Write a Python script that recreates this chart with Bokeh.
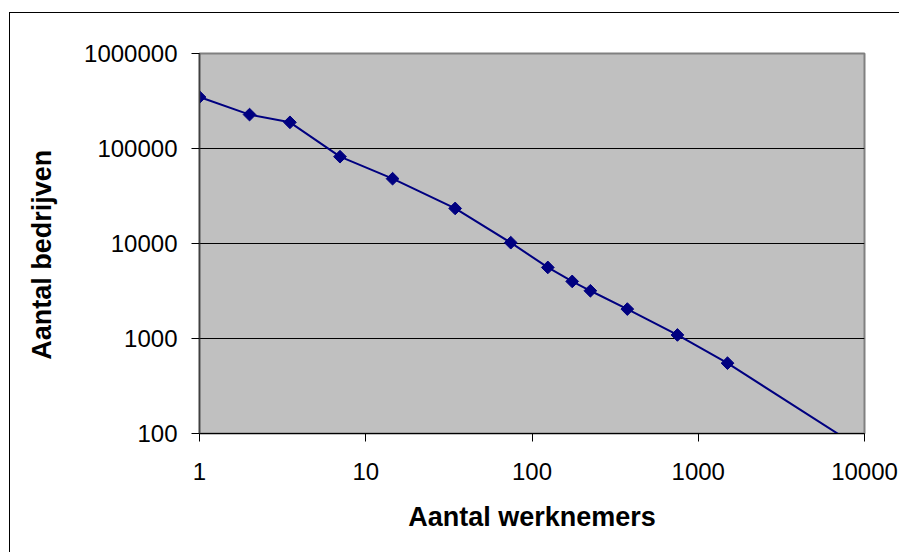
import math
from bokeh.plotting import figure
from bokeh.models import FixedTicker, NumeralTickFormatter, Range1d
from bokeh.embed import file_html
from bokeh.resources import INLINE

# Data
werknemers = [1, 2, 3.5, 7, 14.5, 34.5, 74.5, 124.5, 174.5, 224.5, 374.5, 749.5, 1499.5, 9000]
bedrijven = [348000, 227500, 188600, 82000, 48100, 23400, 10200, 5600, 3990, 3180, 2040, 1090, 550, 74]

x_ticks = [1, 10, 100, 1000, 10000]
y_ticks = [100, 1000, 10000, 100000, 1000000]

FONT = "Liberation Sans"

p = figure(width=890, height=540, x_axis_type="log", y_axis_type="log",
           x_range=Range1d(1, 10000), y_range=Range1d(100, 1000000),
           output_backend="svg", toolbar_location=None,
           min_border_left=189, min_border_right=36, min_border_top=40, min_border_bottom=120)

p.styles = {"margin-left": "9px", "margin-top": "12px",
            "border-left": "1px solid black", "border-top": "1px solid black"}

p.background_fill_color = "#C0C0C0"
p.border_fill_color = "white"
p.outline_line_color = "#808080"
p.outline_line_width = 2

p.xgrid.visible = False
p.ygrid.grid_line_color = "black"
p.ygrid.grid_line_width = 1

p.xaxis.ticker = FixedTicker(ticks=x_ticks, minor_ticks=[])
p.yaxis.ticker = FixedTicker(ticks=y_ticks, minor_ticks=[])
p.xaxis.formatter = NumeralTickFormatter(format="0")
p.yaxis.formatter = NumeralTickFormatter(format="0")

for ax in (p.xaxis, p.yaxis):
    ax.axis_line_color = "black"
    ax.axis_line_width = 1
    ax.major_tick_line_color = "black"
    ax.major_tick_out = 8
    ax.major_tick_in = 0
    ax.minor_tick_out = 0
    ax.minor_tick_in = 0
    ax.major_label_text_font = FONT
    ax.major_label_text_font_size = "24px"
    ax.major_label_text_color = "black"
    ax.axis_label_text_font = FONT
    ax.axis_label_text_font_size = "27px"
    ax.axis_label_text_font_style = "bold"
    ax.axis_label_text_color = "black"

p.yaxis.axis_line_color = "#404040"
p.yaxis.axis_line_width = 1.5

p.xaxis.axis_label = "Aantal werknemers"
p.yaxis.axis_label = "Aantal bedrijven\u00a0\u00a0\u00a0"
p.xaxis.major_label_standoff = 21
p.xaxis.axis_label_standoff = 19
p.yaxis.major_label_standoff = 14
p.yaxis.axis_label_standoff = 24

p.line(werknemers, bedrijven, line_color="#000080", line_width=2)
p.scatter(werknemers, bedrijven, marker="square", angle=math.pi / 4, size=9,
          fill_color="#000080", line_color="#000080")

open("out.html", "w").write(file_html(p, INLINE))
